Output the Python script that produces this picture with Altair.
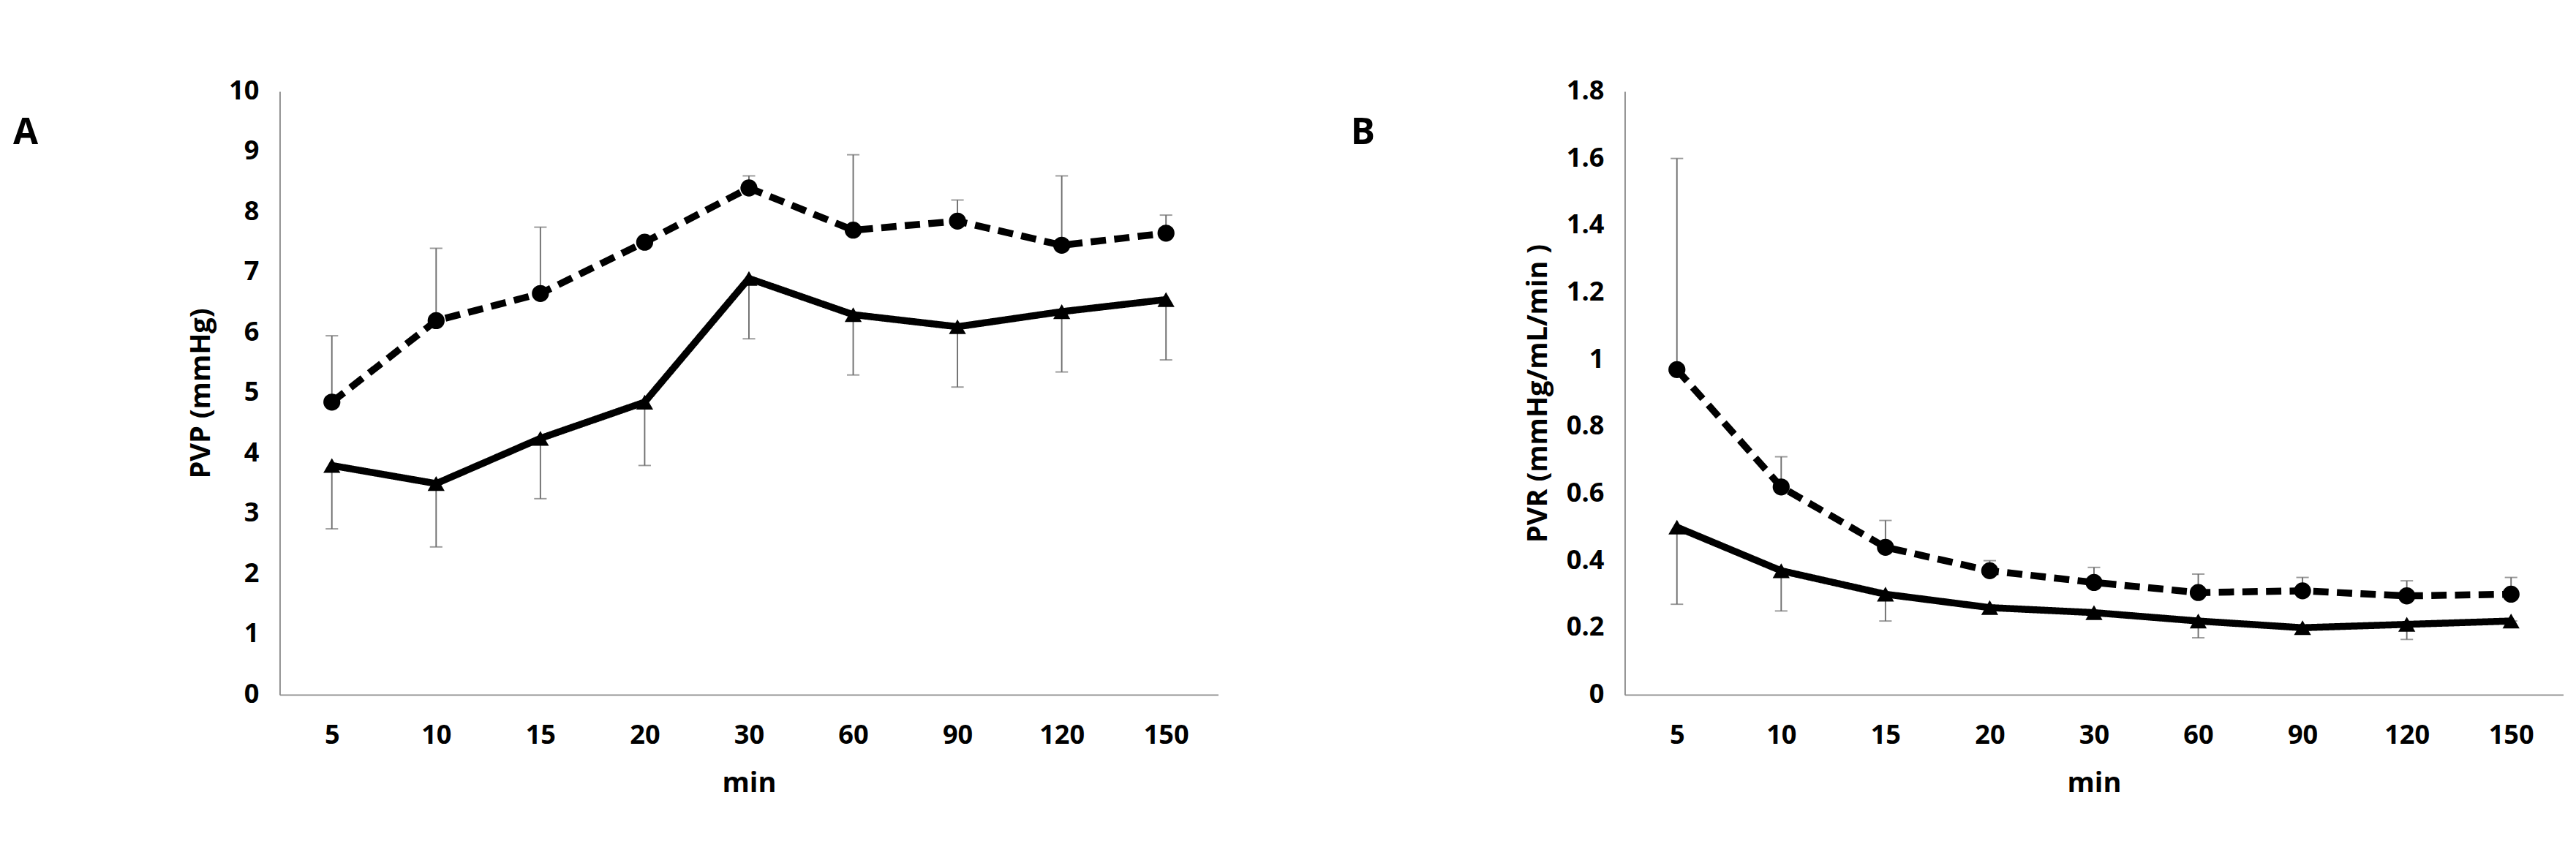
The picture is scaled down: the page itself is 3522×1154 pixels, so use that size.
import altair as alt
import pandas as pd

minutes = ['5', '10', '15', '20', '30', '60', '90', '120', '150']

# panel A - PVP (mmHg)
pvp_dmem = [3.8, 3.5, 4.25, 4.85, 6.9, 6.3, 6.1, 6.35, 6.55]
pvp_dmem_low = [2.75, 2.45, 3.25, 3.8, 5.9, 5.3, 5.1, 5.35, 5.55]
pvp_blood = [4.85, 6.2, 6.65, 7.5, 8.4, 7.7, 7.85, 7.45, 7.65]
pvp_blood_high = [5.95, 7.4, 7.75, 7.5, 8.6, 8.95, 8.2, 8.6, 7.95]

# panel B - PVR (mmHg/mL/min)
pvr_dmem = [0.5, 0.37, 0.30, 0.26, 0.245, 0.22, 0.20, 0.21, 0.22]
pvr_dmem_low = [0.27, 0.25, 0.22, 0.26, 0.245, 0.17, 0.20, 0.165, 0.22]
pvr_blood = [0.97, 0.62, 0.44, 0.37, 0.335, 0.305, 0.31, 0.295, 0.30]
pvr_blood_high = [1.6, 0.71, 0.52, 0.40, 0.38, 0.36, 0.35, 0.34, 0.35]

FONT = 'Open Sans'


def _frame(dmem, dmem_err, blood, blood_err):
    rows = []
    for i, m in enumerate(minutes):
        rows.append({'min': m, 'group': 'DMEM', 'value': dmem[i], 'err': dmem_err[i]})
        rows.append({'min': m, 'group': 'BLOOD', 'value': blood[i], 'err': blood_err[i]})
    return pd.DataFrame(rows)


def _panel(df, letter, ytitle, ymax, ystep, show_legend):
    n = int(round(ymax / ystep))
    x = alt.X('min:N', sort=minutes, title='min',
              scale=alt.Scale(type='point', padding=0.5),
              axis=alt.Axis(labelAngle=0, ticks=False, labelPadding=40, titlePadding=30))
    y = alt.Y('value:Q', title=ytitle,
              scale=alt.Scale(domain=[0, ymax], nice=False),
              axis=alt.Axis(ticks=False, grid=False, labelOverlap=False, format='~g',
                            labelPadding=30, titlePadding=20,
                            values=[round(i * ystep, 1) for i in range(n + 1)]))
    base = alt.Chart(df)
    err_rule = base.mark_rule(color='#6e6e6e', strokeWidth=2).encode(
        x=x, y='value:Q', y2='err:Q')
    err_cap = base.mark_tick(color='#6e6e6e', thickness=2, size=18, orient='horizontal').encode(
        x=x, y='err:Q')
    legend = alt.Legend(title=None, orient='top-right', direction='horizontal', offset=-20,
                        labelFontSize=38, labelFont=FONT, labelFontWeight='bold', symbolSize=700,
                        symbolStrokeWidth=8, symbolStrokeColor='black', symbolFillColor='black',
                        columnPadding=60, labelLimit=300) if show_legend else None
    lines = base.mark_line(strokeWidth=10, color='black',
                           point=alt.OverlayMarkDef(filled=True, color='black', size=600)).encode(
        x=x, y=y,
        strokeDash=alt.StrokeDash('group:N', sort=['DMEM', 'BLOOD'],
                                  scale=alt.Scale(domain=['DMEM', 'BLOOD'], range=[[1, 0], [22, 12]]),
                                  legend=legend),
        shape=alt.Shape('group:N', sort=['DMEM', 'BLOOD'],
                        scale=alt.Scale(domain=['DMEM', 'BLOOD'], range=['triangle-up', 'circle']),
                        legend=legend),
    )
    return alt.layer(err_rule, err_cap, lines).properties(
        width=1350, height=868,
        title=alt.TitleParams(letter, anchor='start', dx=-250, dy=110, fontSize=52,
                              font=FONT, fontWeight='bold'),
    )


a = _panel(_frame(pvp_dmem, pvp_dmem_low, pvp_blood, pvp_blood_high), 'A', 'PVP (mmHg)', 10, 1, False)
b = _panel(_frame(pvr_dmem, pvr_dmem_low, pvr_blood, pvr_blood_high), 'B', 'PVR (mmHg/mL/min )', 1.8, 0.2, True)

chart = alt.hconcat(a, b, spacing=190).configure_view(stroke=None).configure_axis(
    labelFont=FONT, titleFont=FONT, labelFontSize=38, titleFontSize=40,
    labelFontWeight='bold', titleFontWeight='bold', labelColor='black', titleColor='black',
    domainColor='#8c8c8c', domainWidth=2,
).configure_title(offset=0).properties(padding={'left': 10, 'top': 75, 'right': 10, 'bottom': 5})

chart.save("out.html", embed_options={"renderer": "svg", "actions": False})
